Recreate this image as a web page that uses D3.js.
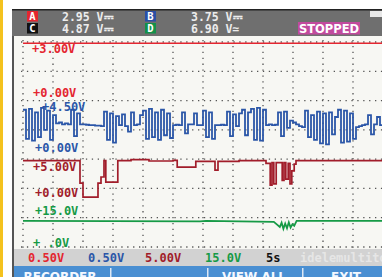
<!DOCTYPE html>
<html>
<head>
<meta charset="utf-8">
<script src="https://cdn.jsdelivr.net/npm/d3@7/dist/d3.min.js"></script>
<style>
body { margin: 0; background: #fff; }
svg { display: block; }
text { font-family: "DejaVu Sans Mono", monospace; font-weight: bold; }
</style>
</head>
<body>
<div id="scope"></div>
<script>
var width = 382,
	height = 277;

// recorder: 5 s/div, 12 divisions across, 7 rows
var timeTicks = [0, 5, 10, 15, 20, 25, 30, 35, 40, 45, 50, 55, 60];
var rowTicks = [0, 1, 2, 3, 4, 5, 6, 7];

// channel A (red) - sits on the top line
var aTime = [0, 60];
var aVolts = [2.98, 2.98];

// channel B (blue), one sample every 0.5 s
var bVolts = [
	4.2, 1.0, 4.3, 0.8, 3.9, 1.2, 4.4, 2.0, 4.1, 0.9, 3.6,
	2.7, 2.8, 2.6, 2.7, 2.6, 4.2, 1.3, 3.8, 2.6,
	2.6, 2.55, 2.5, 2.5, 2.45, 2.45, 2.4,
	4.0, 0.9, 3.8, 0.6, 3.5,
	2.5, 3.7, 2.4, 1.8, 3.9, 2.5, 2.6, 3.6,
	4.1, 1.0, 4.3, 1.2, 3.9, 0.9, 4.2, 1.4, 3.8, 1.1,
	2.5, 2.55, 2.5,
	3.9, 1.6, 2.6,
	2.6, 3.8, 2.5, 2.5,
	4.1, 1.2, 3.9, 1.0,
	2.5, 2.5, 2.55, 2.5,
	4.0, 1.3, 3.7,
	2.4, 3.8,
	4.2, 1.4, 3.9,
	4.3, 0.9, 4.4, 0.8, 4.2,
	2.5, 2.6, 2.5, 2.55,
	3.9, 1.3, 4.0, 2.2,
	3.0, 2.8, 2.6, 2.4, 2.3,
	4.1, 1.2, 3.6, 0.9,
	4.0, 0.5, 3.8, 0.4, 3.9,
	1.5, 3.4,
	4.2, 0.6, 4.1, 0.7, 3.8, 1.0,
	2.3, 2.4, 2.5, 2.6,
	3.6, 1.5, 2.6, 3.4, 2.5
];

// channel C (dark red)
var cTime = [0, 9.5, 10.0, 12.5, 13.0, 13.5, 13.8, 15.8, 18, 21, 25, 25.7, 28.8, 32, 32.5, 36,
	40.5, 41.2, 41.5, 41.8, 42.2, 43.2, 43.5, 43.8, 44.2, 44.5, 44.8, 45.2, 45.5, 60];
var cVolts = [4.92, 1.6, -0.45, 1.6, 2.5, 4.92, 1.75, 4.92, 5.05, 4.85, 4.95, 3.95, 4.8, 3.5, 4.8, 4.92,
	4.5, 1.3, 4.6, 1.5, 4.6, 2.0, 4.6, 2.2, 4.5, 1.5, 3.4, 4.4, 4.92, 4.92];

// channel D (green)
var dTime = [0, 29.5, 30.5, 41.8, 42.3, 42.8, 43.1, 43.4, 43.7, 44.0, 44.3, 44.6, 44.9, 45.2, 45.6, 60];
var dVolts = [11.0, 10.8, 11.0, 10.5, 9.0, 7.5, 10.0, 6.5, 9.5, 6.8, 10.2, 7.2, 9.0, 8.2, 11.0, 11.0];

var channelNames = ['A', 'B', 'C', 'D'];
var channelColors = ['#e42630', '#2a4fa6', '#111111', '#13914a'];
var readings = ['2.95 V\u2393', '3.75 V\u2393', '4.87 V\u2393', '6.90 V\u2243'];

var traceLabels = ['+3.00V', '+0.00V', '+4.50V', '+0.00V', '+5.00V', '+0.00V', '+15.0V', '+ .0V'];
var statusLabels = ['0.50V', '0.50V', '5.00V', '15.0V', '5s'];
var softKeys = ['RECORDER', '', 'VIEW ALL', 'EXIT'];

var red = '#e42630', blue = '#2b56a8', wine = '#a11d2a', green = '#169a46';

var x = d3.scaleLinear().domain([0, 60]).range([23, 383]);
var rowY = d3.scaleLinear().domain([0, 7]).range([42, 247]);
var yA = d3.scaleLinear().domain([0, 3]).range([90, 43]);
var yB = d3.scaleLinear().domain([0, 4.5]).range([148, 107]);
var yC = d3.scaleLinear().domain([0, 5]).range([194, 160]);
var yD = d3.scaleLinear().domain([0, 15]).range([240, 214]);

var svg = d3.select('#scope').append('svg')
	.attr('width', width)
	.attr('height', height);

// frame
svg.append('rect').attr('x', 0).attr('y', 0).attr('width', 3).attr('height', height).attr('fill', '#f4c21e');
svg.append('rect').attr('x', 12).attr('y', 9).attr('width', width - 12).attr('height', 240).attr('fill', '#f7f7f3');
svg.append('rect').attr('x', 12).attr('y', 9).attr('width', 2).attr('height', height - 9).attr('fill', '#555');

// header
var header = svg.append('g');
header.append('rect').attr('x', 12).attr('y', 9).attr('width', width - 12).attr('height', 27).attr('fill', '#6f6f6f');
header.append('rect').attr('x', 12).attr('y', 9).attr('width', width - 12).attr('height', 1.5).attr('fill', '#222');

channelNames.forEach(function(name, i){
	var bx = i % 2 === 0 ? 27 : 145,
		by = i < 2 ? 11 : 23;
	header.append('rect').attr('x', bx).attr('y', by).attr('width', 11).attr('height', 10.5).attr('fill', channelColors[i]);
	header.append('text').attr('x', bx + 5.5).attr('y', by + 9).attr('text-anchor', 'middle')
		.attr('fill', '#fff').style('font-size', '10.5px').text(name);
	header.append('text').attr('x', i % 2 === 0 ? 62 : 191).attr('y', by + 9.5)
		.attr('fill', '#ececec').style('font-size', '11.5px').text(readings[i]);
});

header.append('rect').attr('x', 298).attr('y', 22).attr('width', 62).attr('height', 12.5).attr('fill', '#c24a9e');
header.append('text').attr('x', 329).attr('y', 32.5).attr('text-anchor', 'middle').attr('fill', '#fff')
	.style('font-family', '"DejaVu Sans", sans-serif').style('font-size', '11.5px').text('STOPPED');
header.append('rect').attr('x', 370).attr('y', 11).attr('width', 12).attr('height', 6).attr('fill', '#e8e8e8');

// grid
svg.append('g').selectAll('line')
	.data(rowTicks).enter().append('line')
	.attr('x1', 21).attr('x2', width)
	.attr('y1', function(d){ return rowY(d); })
	.attr('y2', function(d){ return rowY(d); })
	.attr('stroke', '#555').attr('stroke-width', 1.3)
	.attr('stroke-dasharray', '1.3,4.6');

svg.append('g').selectAll('line')
	.data(timeTicks).enter().append('line')
	.attr('x1', function(d){ return x(d); })
	.attr('x2', function(d){ return x(d); })
	.attr('y1', 40).attr('y2', 249)
	.attr('stroke', '#555').attr('stroke-width', 1.3)
	.attr('stroke-dasharray', '1.3,4.6');

// traces
var lineA = d3.line().x(function(d){ return x(d[0]); }).y(function(d){ return yA(d[1]); });
var lineB = d3.line().x(function(d){ return x(d[0]); }).y(function(d){ return yB(d[1]); }).curve(d3.curveStepAfter);
var lineC = d3.line().x(function(d){ return x(d[0]); }).y(function(d){ return yC(d[1]); }).curve(d3.curveStepAfter);
var lineD = d3.line().x(function(d){ return x(d[0]); }).y(function(d){ return yD(d[1]); });

var bData = bVolts.map(function(v, i){ return [i * 0.5, v]; });
bData.push([60, bVolts[bVolts.length - 1]]);

svg.append('path').datum(d3.zip(aTime, aVolts)).attr('d', lineA)
	.attr('fill', 'none').attr('stroke', red).attr('stroke-width', 1.6);
svg.append('path').datum(bData).attr('d', lineB)
	.attr('fill', 'none').attr('stroke', blue).attr('stroke-width', 1.8);
svg.append('path').datum(d3.zip(cTime, cVolts)).attr('d', lineC)
	.attr('fill', 'none').attr('stroke', wine).attr('stroke-width', 1.7);
svg.append('path').datum(d3.zip(dTime, dVolts)).attr('d', lineD)
	.attr('fill', 'none').attr('stroke', green).attr('stroke-width', 1.8);

// trace labels
var labelPos = [
	[32, yA(3) + 10, red], [33, yA(0) + 7, red],
	[42, yB(4.5) + 4, blue], [35, yB(0) + 4, blue],
	[33, yC(5) + 11, wine], [35, yC(0) + 3, wine],
	[35, yD(15) + 1, green], [33, yD(0) + 7, green]
];
svg.append('g').selectAll('text')
	.data(traceLabels).enter().append('text')
	.attr('x', function(d, i){ return labelPos[i][0]; })
	.attr('y', function(d, i){ return labelPos[i][1]; })
	.attr('fill', function(d, i){ return labelPos[i][2]; })
	.style('font-size', '12px')
	.text(function(d){ return d; });

// status bar
svg.append('rect').attr('x', 14).attr('y', 249).attr('width', width - 14).attr('height', 17).attr('fill', '#d2d2d2');
var statusX = [28, 88, 145, 205, 266],
	statusColors = [red, blue, wine, green, '#111'];
svg.append('g').selectAll('text')
	.data(statusLabels).enter().append('text')
	.attr('x', function(d, i){ return statusX[i]; })
	.attr('y', 262)
	.attr('fill', function(d, i){ return statusColors[i]; })
	.style('font-size', '12px')
	.text(function(d){ return d; });
svg.append('text').attr('x', 300).attr('y', 262).attr('fill', '#e6e6e6')
	.style('font-size', '12px').text('idelemultito');

// soft keys
var keys = svg.append('g');
keys.append('rect').attr('x', 14).attr('y', 266).attr('width', width - 14).attr('height', 11).attr('fill', '#4a8fd2');
var keyX = [60, 158, 254, 346];
softKeys.forEach(function(k, i){
	keys.append('text').attr('x', keyX[i]).attr('y', 281).attr('text-anchor', 'middle')
		.attr('fill', '#f4f8ff').style('font-family', '"DejaVu Sans", sans-serif').style('font-size', '12px').text(k);
});
[110, 207, 302].forEach(function(d){
	keys.append('rect').attr('x', d).attr('y', 268).attr('width', 1.5).attr('height', 9).attr('fill', '#dde8f4');
});
</script>
</body>
</html>
